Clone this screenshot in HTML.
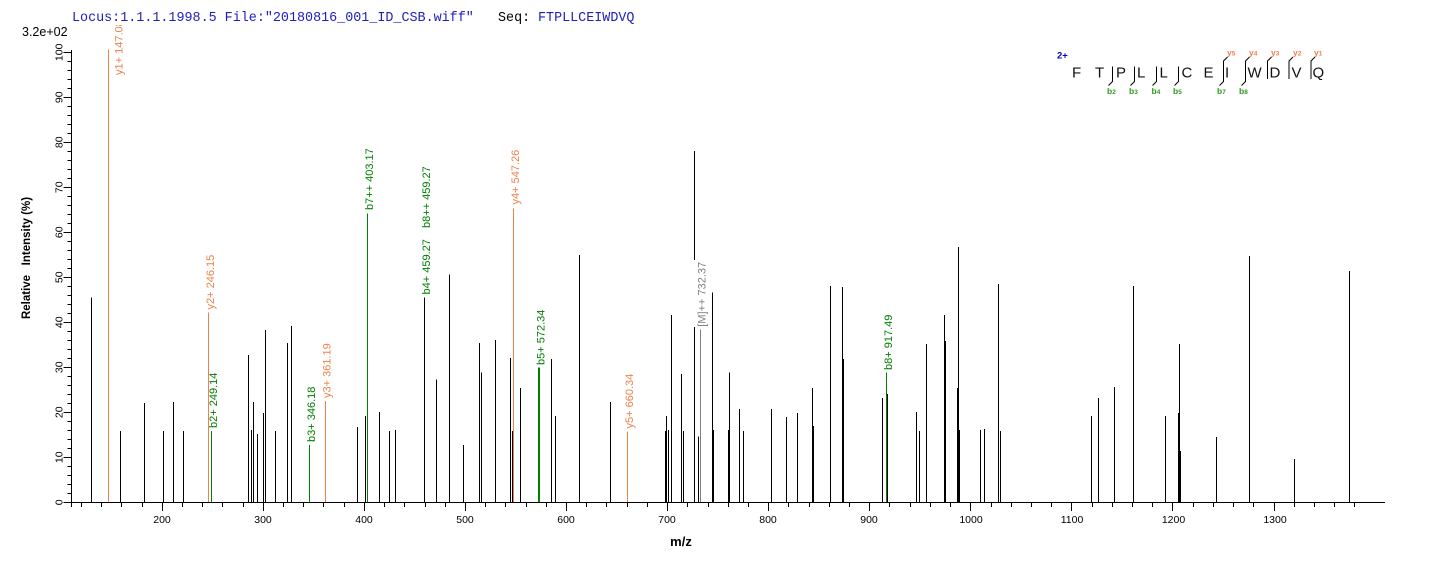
<!DOCTYPE html>
<html><head><meta charset="utf-8"><style>
html,body{margin:0;padding:0;background:#fff;}
svg{display:block;}
</style></head><body>
<svg width="1436" height="562" viewBox="0 0 1436 562" xmlns="http://www.w3.org/2000/svg" font-family="'Liberation Sans', Arial, sans-serif">
<defs><clipPath id="cp" clipPathUnits="userSpaceOnUse"><rect x="0" y="25" width="1436" height="540"/></clipPath></defs>
<rect x="0" y="0" width="1436" height="562" fill="#fff"/>

<!-- title -->
<text x="72" y="21" font-family="'Liberation Mono', monospace" font-size="13.4" fill="#2020c0" style="white-space:pre">Locus:1.1.1.1998.5 File:"20180816_001_ID_CSB.wiff"</text>
<text x="498" y="21" font-family="'Liberation Mono', monospace" font-size="13.4" fill="#000" style="white-space:pre">Seq:</text>
<text x="538" y="21" font-family="'Liberation Mono', monospace" font-size="13.4" fill="#2020c0">FTPLLCEIWDVQ</text>

<text x="22" y="36" font-size="12.5" fill="#000">3.2e+02</text>

<!-- y axis label -->
<text transform="translate(30,258) rotate(-90)" text-anchor="middle" font-size="11.5" font-weight="bold" fill="#000" style="white-space:pre">Relative   Intensity (%)</text>
<text x="681" y="546" text-anchor="middle" font-size="13" font-weight="bold" fill="#000">m/z</text>

<g shape-rendering="crispEdges" stroke="#000" stroke-width="1" fill="none">
<path d="M71 502.5H1385M71.5 50V507"/>
<!-- y ticks -->
<path d="M63.5 502.5H71.5M67.5 493.5H71.5M67.5 484.5H71.5M67.5 475.5H71.5M67.5 466.5H71.5M63.5 457.5H71.5M67.5 448.5H71.5M67.5 439.5H71.5M67.5 430.5H71.5M67.5 421.5H71.5M63.5 412.5H71.5M67.5 403.5H71.5M67.5 394.5H71.5M67.5 385.5H71.5M67.5 376.5H71.5M63.5 367.5H71.5M67.5 358.5H71.5M67.5 349.5H71.5M67.5 340.5H71.5M67.5 331.5H71.5M63.5 322.5H71.5M67.5 313.5H71.5M67.5 304.5H71.5M67.5 295.5H71.5M67.5 286.5H71.5M63.5 277.5H71.5M67.5 268.5H71.5M67.5 259.5H71.5M67.5 250.5H71.5M67.5 241.5H71.5M63.5 232.5H71.5M67.5 223.5H71.5M67.5 214.5H71.5M67.5 205.5H71.5M67.5 196.5H71.5M63.5 187.5H71.5M67.5 178.5H71.5M67.5 169.5H71.5M67.5 160.5H71.5M67.5 151.5H71.5M63.5 142.5H71.5M67.5 133.5H71.5M67.5 124.5H71.5M67.5 115.5H71.5M67.5 106.5H71.5M63.5 97.5H71.5M67.5 88.5H71.5M67.5 79.5H71.5M67.5 70.5H71.5M67.5 61.5H71.5M63.5 52.5H71.5"/>
<!-- x ticks -->
<path d="M81.5 502V507M101.5 502V507M121.5 502V507M142.5 502V507M162.5 502V511M182.5 502V507M202.5 502V507M222.5 502V507M243.5 502V507M263.5 502V511M283.5 502V507M303.5 502V507M323.5 502V507M344.5 502V507M364.5 502V511M384.5 502V507M404.5 502V507M425.5 502V507M445.5 502V507M465.5 502V511M485.5 502V507M505.5 502V507M526.5 502V507M546.5 502V507M566.5 502V511M586.5 502V507M606.5 502V507M627.5 502V507M647.5 502V507M667.5 502V511M687.5 502V507M708.5 502V507M728.5 502V507M748.5 502V507M768.5 502V511M788.5 502V507M809.5 502V507M829.5 502V507M849.5 502V507M869.5 502V511M889.5 502V507M910.5 502V507M930.5 502V507M950.5 502V507M970.5 502V511M991.5 502V507M1011.5 502V507M1031.5 502V507M1051.5 502V507M1071.5 502V511M1092.5 502V507M1112.5 502V507M1132.5 502V507M1152.5 502V507M1172.5 502V511M1193.5 502V507M1213.5 502V507M1233.5 502V507M1253.5 502V507M1274.5 502V511M1294.5 502V507M1314.5 502V507M1334.5 502V507M1354.5 502V507"/>
<!-- black peaks -->
<path d="M91.5 502V297.3M120.5 502V431M144.5 502V403M163.5 502V431M173.5 502V402M183.5 502V431M248.5 502V355M251.5 502V430M253.5 502V402M257.5 502V434M263.5 502V413M265.5 502V330M275.5 502V431M287.5 502V343M291.5 502V326M325.5 502V413M357.5 502V427M365.5 502V416M379.5 502V412M389.5 502V431M395.5 502V430M424.5 502V297.3M436.5 502V379.3M449.5 502V274.3M463.5 502V445M479.5 502V343M481.5 502V372.7M495.5 502V340M510.5 502V358M512.5 502V431M520.5 502V388M551.5 502V359M555.5 502V416M579.5 502V255M610.5 502V402M665.5 502V431M666.5 502V416M668.5 502V430M671.5 502V315M681.5 502V374M683.5 502V431M694.5 502V151M698.5 502V436.7M712.5 502V292.3M713.5 502V430M728.5 502V430M729.5 502V372.7M739.5 502V409M743.5 502V431M771.5 502V409M786.5 502V417M797.5 502V413M812.5 502V388M813.5 502V426M830.5 502V286M842.5 502V287M843.5 502V359M882.5 502V398M887.5 502V394M916.5 502V412M919.5 502V431M926.5 502V344M944.5 502V315M945.5 502V341M957.5 502V388M958.5 502V247M959.5 502V430M980.5 502V430M984.5 502V429M998.5 502V284M1000.5 502V431M1091.5 502V416M1098.5 502V398M1114.5 502V387M1133.5 502V286M1165.5 502V416M1178.5 502V413M1179.5 502V344M1180.5 502V451M1216.5 502V437M1249.5 502V256M1294.5 502V459M1349.5 502V271"/>
</g>
<g shape-rendering="crispEdges" fill="none" stroke-width="1">
<path stroke="#f0804a" d="M108.5 502V49.3M208.5 502V312.7M325.5 502V401M513.5 502V208.3M627.5 502V431.7"/>
<path stroke="#008000" d="M211.5 502V431M309.5 502V445M367.5 502V213.3M886.5 502V372.7"/>
<path stroke="#008000" stroke-width="2" d="M539 502V367.3"/>
<path stroke="#808080" d="M700.5 502V329.3"/>
</g>
<rect x="693" y="260" width="15" height="67" fill="#fff"/>

<!-- y tick labels -->
<g font-size="10.5" fill="#000" text-anchor="middle">
<text transform="translate(62.5,502.3) rotate(-90)">0</text>
<text transform="translate(62.5,457.3) rotate(-90)">10</text>
<text transform="translate(62.5,412.3) rotate(-90)">20</text>
<text transform="translate(62.5,367.3) rotate(-90)">30</text>
<text transform="translate(62.5,322.3) rotate(-90)">40</text>
<text transform="translate(62.5,277.3) rotate(-90)">50</text>
<text transform="translate(62.5,232.3) rotate(-90)">60</text>
<text transform="translate(62.5,187.3) rotate(-90)">70</text>
<text transform="translate(62.5,142.3) rotate(-90)">80</text>
<text transform="translate(62.5,97.3) rotate(-90)">90</text>
<text transform="translate(62.5,52.3) rotate(-90)">100</text>
</g>
<!-- x tick labels -->
<g font-size="10.5" fill="#000" text-anchor="middle">
<text x="162" y="523">200</text>
<text x="263" y="523">300</text>
<text x="364" y="523">400</text>
<text x="465" y="523">500</text>
<text x="566" y="523">600</text>
<text x="667" y="523">700</text>
<text x="768" y="523">800</text>
<text x="869" y="523">900</text>
<text x="971" y="523">1000</text>
<text x="1072" y="523">1100</text>
<text x="1173.5" y="523">1200</text>
<text x="1275" y="523">1300</text>
</g>

<!-- peak labels -->
<g font-size="11">
<g clip-path="url(#cp)"><text transform="translate(122.3,75) rotate(-90)" fill="#f0804a">y1+ 147.08</text></g>
<text transform="translate(213.8,309.5) rotate(-90)" fill="#f0804a">y2+ 246.15</text>
<text transform="translate(216.8,428) rotate(-90)" fill="#008000">b2+ 249.14</text>
<text transform="translate(314.8,442) rotate(-90)" fill="#008000">b3+ 346.18</text>
<text transform="translate(330.5,398) rotate(-90)" fill="#f0804a">y3+ 361.19</text>
<text transform="translate(372.8,210) rotate(-90)" fill="#008000">b7++ 403.17</text>
<text transform="translate(429.8,294.5) rotate(-90)" fill="#008000">b4+ 459.27</text>
<text transform="translate(429.8,228) rotate(-90)" fill="#008000">b8++ 459.27</text>
<text transform="translate(518.8,204.5) rotate(-90)" fill="#f0804a">y4+ 547.26</text>
<text transform="translate(544.5,365) rotate(-90)" fill="#008000">b5+ 572.34</text>
<text transform="translate(632.8,428.5) rotate(-90)" fill="#f0804a">y5+ 660.34</text>
<text transform="translate(705.7,326.7) rotate(-90)" fill="#808080">[M]++ 732.37</text>
<text transform="translate(892.2,370) rotate(-90)" fill="#008000">b8+ 917.49</text>
</g>

<!-- peptide legend -->
<text x="1057" y="58.5" font-size="9.5" font-weight="bold" fill="#0000cc">2+</text>
<g font-size="15" fill="#111">
<text x="1072" y="77.5">F</text>
<text x="1095" y="77.5">T</text>
<text x="1116" y="77.5">P</text>
<text x="1137" y="77.5">L</text>
<text x="1159.5" y="77.5">L</text>
<text x="1181.5" y="77.5">C</text>
<text x="1203.5" y="77.5">E</text>
<text x="1225" y="77.5">I</text>
<text x="1247.5" y="77.5">W</text>
<text x="1269.5" y="77.5">D</text>
<text x="1291.5" y="77.5">V</text>
<text x="1312.5" y="77.5">Q</text>
</g>
<g stroke="#000" stroke-width="1" fill="none">
<path d="M1112.5 66.5V81.5L1108.5 85.5"/>
<path d="M1134.5 66.5V81.5L1130.5 85.5"/>
<path d="M1156.5 66.5V81.5L1152.5 85.5"/>
<path d="M1178.5 66.5V81.5L1174.5 85.5"/>
<path d="M1227.5 57L1223.5 61V81.5L1219.5 85.5"/>
<path d="M1249.5 57L1245.5 61V81.5L1241.5 85.5"/>
<path d="M1271.5 57L1267.5 61V79"/>
<path d="M1293 57L1289 61V79"/>
<path d="M1315 57L1311 61V79"/>
</g>
<g font-weight="bold" fill="#2e9a1e">
<text x="1107" y="94" font-size="8.5">b<tspan font-size="6.5">2</tspan></text>
<text x="1129" y="94" font-size="8.5">b<tspan font-size="6.5">3</tspan></text>
<text x="1151.5" y="94" font-size="8.5">b<tspan font-size="6.5">4</tspan></text>
<text x="1173" y="94" font-size="8.5">b<tspan font-size="6.5">5</tspan></text>
<text x="1217" y="94" font-size="8.5">b<tspan font-size="6.5">7</tspan></text>
<text x="1239" y="94" font-size="8.5">b<tspan font-size="6.5">8</tspan></text>
</g>
<g font-weight="bold" fill="#f0804a">
<text x="1227" y="55.5" font-size="8.5">y<tspan font-size="6.5">5</tspan></text>
<text x="1249" y="55.5" font-size="8.5">y<tspan font-size="6.5">4</tspan></text>
<text x="1271" y="55.5" font-size="8.5">y<tspan font-size="6.5">3</tspan></text>
<text x="1293" y="55.5" font-size="8.5">y<tspan font-size="6.5">2</tspan></text>
<text x="1314" y="55.5" font-size="8.5">y<tspan font-size="6.5">1</tspan></text>
</g>
</svg>
</body></html>
